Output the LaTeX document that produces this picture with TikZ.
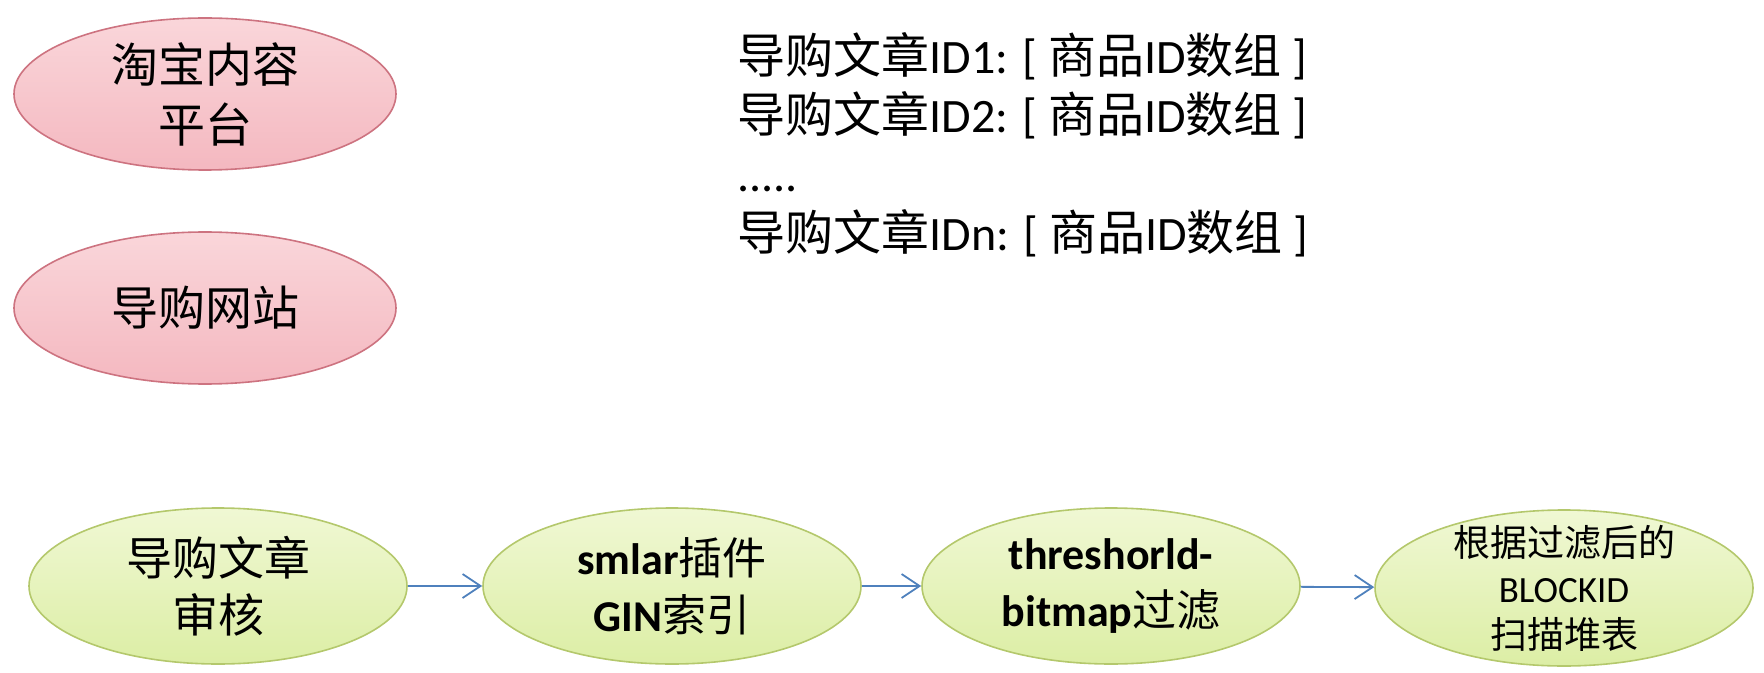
\documentclass[tikz,border=0pt]{standalone}
\usepackage{fontspec}
\setmainfont{Carlito}
\newfontfamily\cjk{Noto Sans CJK SC}
\usetikzlibrary{positioning,shapes.geometric,arrows.meta}

\definecolor{pinktop}{RGB}{250,214,218}
\definecolor{pinkbot}{RGB}{244,184,192}
\definecolor{pinkline}{RGB}{205,115,128}
\definecolor{greentop}{RGB}{240,248,212}
\definecolor{greenbot}{RGB}{220,238,165}
\definecolor{greenline}{RGB}{180,200,108}
\definecolor{flowblue}{RGB}{79,129,189}

\newcommand{\zh}[1]{{\mdseries\cjk #1}}

\begin{document}
\begin{tikzpicture}[x=0.5pt,y=-0.5pt]
		\tikzset{src/.style = {shape=ellipse,draw=pinkline,line width=0.8pt,top color=pinktop,bottom color=pinkbot,minimum width=191pt,minimum height=76pt,inner sep=0pt,align=center,font=\fontsize{23.5}{30}\selectfont}}
		\tikzset{stage/.style = {shape=ellipse,draw=greenline,line width=0.8pt,top color=greentop,bottom color=greenbot,minimum width=189pt,minimum height=78pt,inner sep=0pt,align=center,font=\fontsize{23}{28.5}\selectfont}}
		\tikzset{flow/.style = {-{Straight Barb[length=9pt,width=12pt]},draw=flowblue,line width=0.9pt}}
		\useasboundingbox (0,0) rectangle (1764,673);

		% sources
		\node[src] (taobao) at (205,94){\zh{淘宝内容}\\\zh{平台}};
		\node[src] (guide) at (205,308){\zh{导购网站}};

		% article id -> item ids
		\node[align=left,anchor=west,inner sep=0pt,font=\fontsize{24}{29.5}\selectfont] (idlist) at (737,145){%
			\zh{导购文章}ID1: [ \zh{商品}ID\zh{数组} ]\\
			\zh{导购文章}ID2: [ \zh{商品}ID\zh{数组} ]\\
			.....\\
			\zh{导购文章}IDn: [ \zh{商品}ID\zh{数组} ]};

		% pipeline
		\node[stage] (audit) at (218,586){\zh{导购文章}\\\zh{审核}};
		\node[stage,font=\fontsize{22}{28.5}\selectfont] (gin) at (672,586){\bfseries smlar\zh{插件}\\\bfseries GIN\zh{索引}};
		\node[stage,font=\fontsize{22}{28.5}\selectfont] (bitmap) at (1111,586){\bfseries threshorld-\\\bfseries bitmap\zh{过滤}};
		\node[stage,inner ysep=-12pt,font=\fontsize{18.5}{23}\selectfont] (scan) at (1564,588){\zh{根据过滤后的}\\BLOCKID\\\zh{扫描堆表}};

		% edges audit -> gin -> bitmap -> scan
		\draw[flow] (audit) to (gin);
		\draw[flow] (gin) to (bitmap);
		\draw[flow] (bitmap) to (scan);
	\end{tikzpicture}
\end{document}
